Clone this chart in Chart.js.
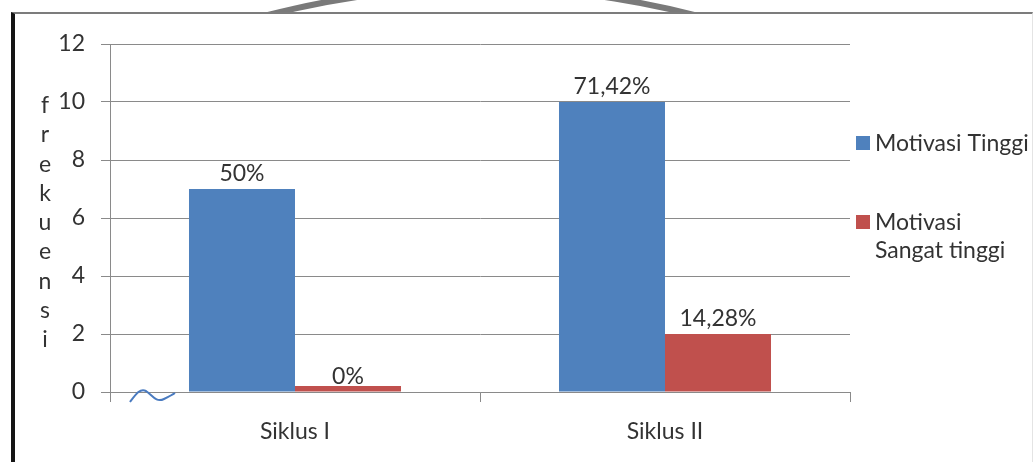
<!DOCTYPE html>
<html>
<head>
<meta charset="utf-8">
<script src="https://cdn.jsdelivr.net/npm/chart.js@4.4.1/dist/chart.umd.min.js"></script>
<style>
  html, body { margin: 0; padding: 0; background: #fff; }
  body { width: 1033px; height: 462px; position: relative; overflow: hidden; }
  .frame {
    position: absolute; left: 11px; top: 12px; right: 0; bottom: -4px;
    border-top: 2px solid #7c7c7c; border-left: 4px solid #151515;
    border-right: 1px solid #e4e4e4;
  }
  #wrap { position: absolute; left: 0; top: 0; width: 1033px; height: 462px; }
</style>
</head>
<body>
<div class="frame"></div>
<div id="wrap"><canvas id="grafik"></canvas></div>
<script>
// data per siklus
const categories = ["Siklus I", "Siklus II"];
const motivasiTinggi = [7, 10];
const motivasiSangatTinggi = [0, 2];
const persenTinggi = ["50%", "71,42%"];
const persenSangatTinggi = ["0%", "14,28%"];
const yTicks = [0, 2, 4, 6, 8, 10, 12];
const yTitle = "frekuensi";
const seriesNames = [["Motivasi Tinggi"], ["Motivasi", "Sangat tinggi"]];

const FONT = "Lato, 'Open Sans', sans-serif";
const TEXT = "#333333";
const GRID = "#8a8a8a";

// percentage labels, vertical axis title, legend and the little pen stroke
const extras = {
  id: "extras",
  beforeDraw(chart) {
    const ctx = chart.ctx;
    // arc of the logo peeking above the frame
    ctx.save();
    ctx.beginPath();
    ctx.rect(0, 0, chart.width, 12);
    ctx.clip();
    ctx.strokeStyle = "#7a7a7a";
    ctx.lineWidth = 6;
    ctx.beginPath();
    ctx.arc(481, 843, 855, Math.PI * 1.05, Math.PI * 1.95);
    ctx.stroke();
    ctx.restore();
  },
  afterDraw(chart) {
    const ctx = chart.ctx;
    const area = chart.chartArea;
    const yScale = chart.scales.y;
    const persen = [persenTinggi, persenSangatTinggi];

    ctx.save();
    ctx.font = "23px " + FONT;
    ctx.fillStyle = TEXT;
    ctx.textAlign = "center";
    ctx.textBaseline = "alphabetic";
    chart.data.datasets.forEach((ds, i) => {
      const meta = chart.getDatasetMeta(i);
      meta.data.forEach((bar, j) => {
        const top = yScale.getPixelForValue(ds.data[j]);
        ctx.fillText(persen[i][j], bar.x, top - 8);
      });
    });

    // stacked letters of the axis title
    for (let k = 0; k < yTitle.length; k++) {
      ctx.fillText(yTitle[k], 45, 113 + k * 29.25);
    }

    // legend on the right
    ctx.textAlign = "left";
    ctx.font = "23px " + FONT;
    let y = 143;
    chart.data.datasets.forEach((ds, i) => {
      ctx.fillStyle = ds.backgroundColor;
      ctx.fillRect(area.right + 6, y - 7, 14, 14);
      ctx.fillStyle = TEXT;
      seriesNames[i].forEach((line, k) => {
        ctx.fillText(line, area.right + 25, y + 8 + k * 28);
      });
      y += seriesNames[i].length * 28 + 51;
    });

    // pen stroke near the origin
    ctx.strokeStyle = "#4a7bc0";
    ctx.lineWidth = 2;
    ctx.beginPath();
    ctx.moveTo(area.left + 20, area.bottom + 10);
    ctx.bezierCurveTo(area.left + 26, area.bottom + 2, area.left + 30, area.bottom - 4, area.left + 36, area.bottom - 1);
    ctx.bezierCurveTo(area.left + 42, area.bottom + 3, area.left + 46, area.bottom + 11, area.left + 54, area.bottom + 7);
    ctx.bezierCurveTo(area.left + 58, area.bottom + 5, area.left + 62, area.bottom + 3, area.left + 65, area.bottom + 1);
    ctx.stroke();
    ctx.restore();
  }
};

const ctx = document.getElementById("grafik").getContext("2d");
new Chart(ctx, {
  type: "bar",
  data: {
    labels: categories,
    datasets: [{
      label: seriesNames[0].join(" "),
      data: motivasiTinggi,
      backgroundColor: "#4f81bd"
    }, {
      label: seriesNames[1].join(" "),
      data: motivasiSangatTinggi,
      backgroundColor: "#c0504d",
      minBarLength: 6
    }]
  },
  options: {
    responsive: true,
    maintainAspectRatio: false,
    animation: false,
    categoryPercentage: 0.573,
    barPercentage: 1,
    layout: { padding: { left: 0, top: 44, right: 183, bottom: 0 } },
    plugins: {
      legend: { display: false },
      tooltip: { enabled: false }
    },
    scales: {
      x: {
        offset: true,
        grid: { drawOnChartArea: false, drawTicks: true, tickLength: 10, color: GRID, offset: true },
        border: { color: GRID },
        ticks: { color: TEXT, font: { family: FONT, size: 23 }, padding: 16 },
        afterFit(scale) { scale.height = 70; }
      },
      y: {
        min: 0,
        max: 12,
        grid: { color: GRID, tickLength: 9 },
        border: { color: GRID },
        afterBuildTicks(scale) { scale.ticks = yTicks.map(v => ({ value: v })); },
        ticks: { color: TEXT, font: { family: FONT, size: 23 }, padding: 16 },
        afterFit(scale) { scale.width = 110; }
      }
    }
  },
  plugins: [extras]
});
</script>
</body>
</html>
